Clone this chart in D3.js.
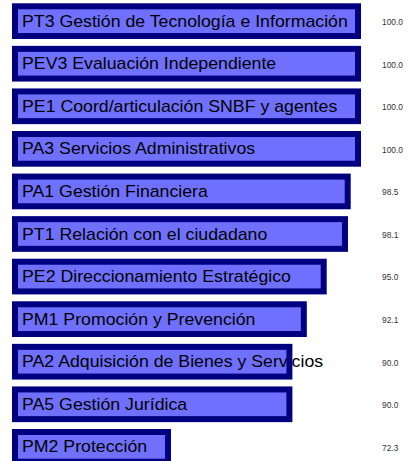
<!DOCTYPE html>
<html>
<head>
<meta charset="utf-8">
<script src="https://cdn.jsdelivr.net/npm/d3@7"></script>
<style>
  html, body { margin: 0; padding: 0; background: #ffffff; }
  svg { display: block; }
</style>
</head>
<body>
<div id="chart"></div>
<script>
const categories = [
  "PT3 Gestión de Tecnología e Información",
  "PEV3 Evaluación Independiente",
  "PE1 Coord/articulación SNBF y agentes",
  "PA3 Servicios Administrativos",
  "PA1 Gestión Financiera",
  "PT1 Relación con el ciudadano",
  "PE2 Direccionamiento Estratégico",
  "PM1 Promoción y Prevención",
  "PA2 Adquisición de Bienes y Servicios",
  "PA5 Gestión Jurídica",
  "PM2 Protección"
];
const values = [100.0, 100.0, 100.0, 100.0, 98.5, 98.1, 95.0, 92.1, 90.0, 90.0, 72.3];

const W = 409, H = 461;
const fillColor = "#7070ff";
const borderColor = "#000080";
const borderW = 6;
const fontFam = "'Liberation Sans', Arial, sans-serif";
const labelStretch = 1.109;

const svg = d3.select("#chart").append("svg")
  .attr("width", W).attr("height", H);

const y = d3.scaleBand()
  .domain(categories)
  .range([3.3, 464.7])
  .paddingInner(0.1614)
  .paddingOuter(0);

const x = d3.scaleLinear()
  .domain([50, 100])
  .range([15, 358]);

const data = categories.map((c, i) => ({ c, v: values[i] }));
const bw = y.bandwidth();
const fmt = d3.format(".1f");

const g = svg.append("g");

// bar fills
g.selectAll("rect.fill").data(data).join("rect")
  .attr("class", "fill")
  .attr("x", x(50))
  .attr("y", d => y(d.c) + borderW / 2)
  .attr("width", d => x(d.v) - x(50))
  .attr("height", bw - borderW)
  .attr("fill", fillColor);

// labels inside bars
g.selectAll("text.lab").data(data).join("text")
  .attr("class", "lab")
  .attr("transform", d => `translate(22,${y(d.c) + bw / 2 + 5.6}) scale(${labelStretch},1)`)
  .attr("font-family", fontFam)
  .attr("font-size", 16)
  .attr("fill", "#000")
  .text(d => d.c);

// bar borders drawn over text
g.selectAll("rect.border").data(data).join("rect")
  .attr("class", "border")
  .attr("x", x(50))
  .attr("y", d => y(d.c) + borderW / 2)
  .attr("width", d => x(d.v) - x(50))
  .attr("height", bw - borderW)
  .attr("fill", "none")
  .attr("stroke", borderColor)
  .attr("stroke-width", borderW);

// value labels
g.selectAll("text.val").data(data).join("text")
  .attr("class", "val")
  .attr("x", 382)
  .attr("y", d => y(d.c) + bw / 2 + 3.8)
  .attr("font-family", fontFam)
  .attr("font-size", 8.4)
  .attr("fill", "#333")
  .text(d => fmt(d.v));
</script>
</body>
</html>
